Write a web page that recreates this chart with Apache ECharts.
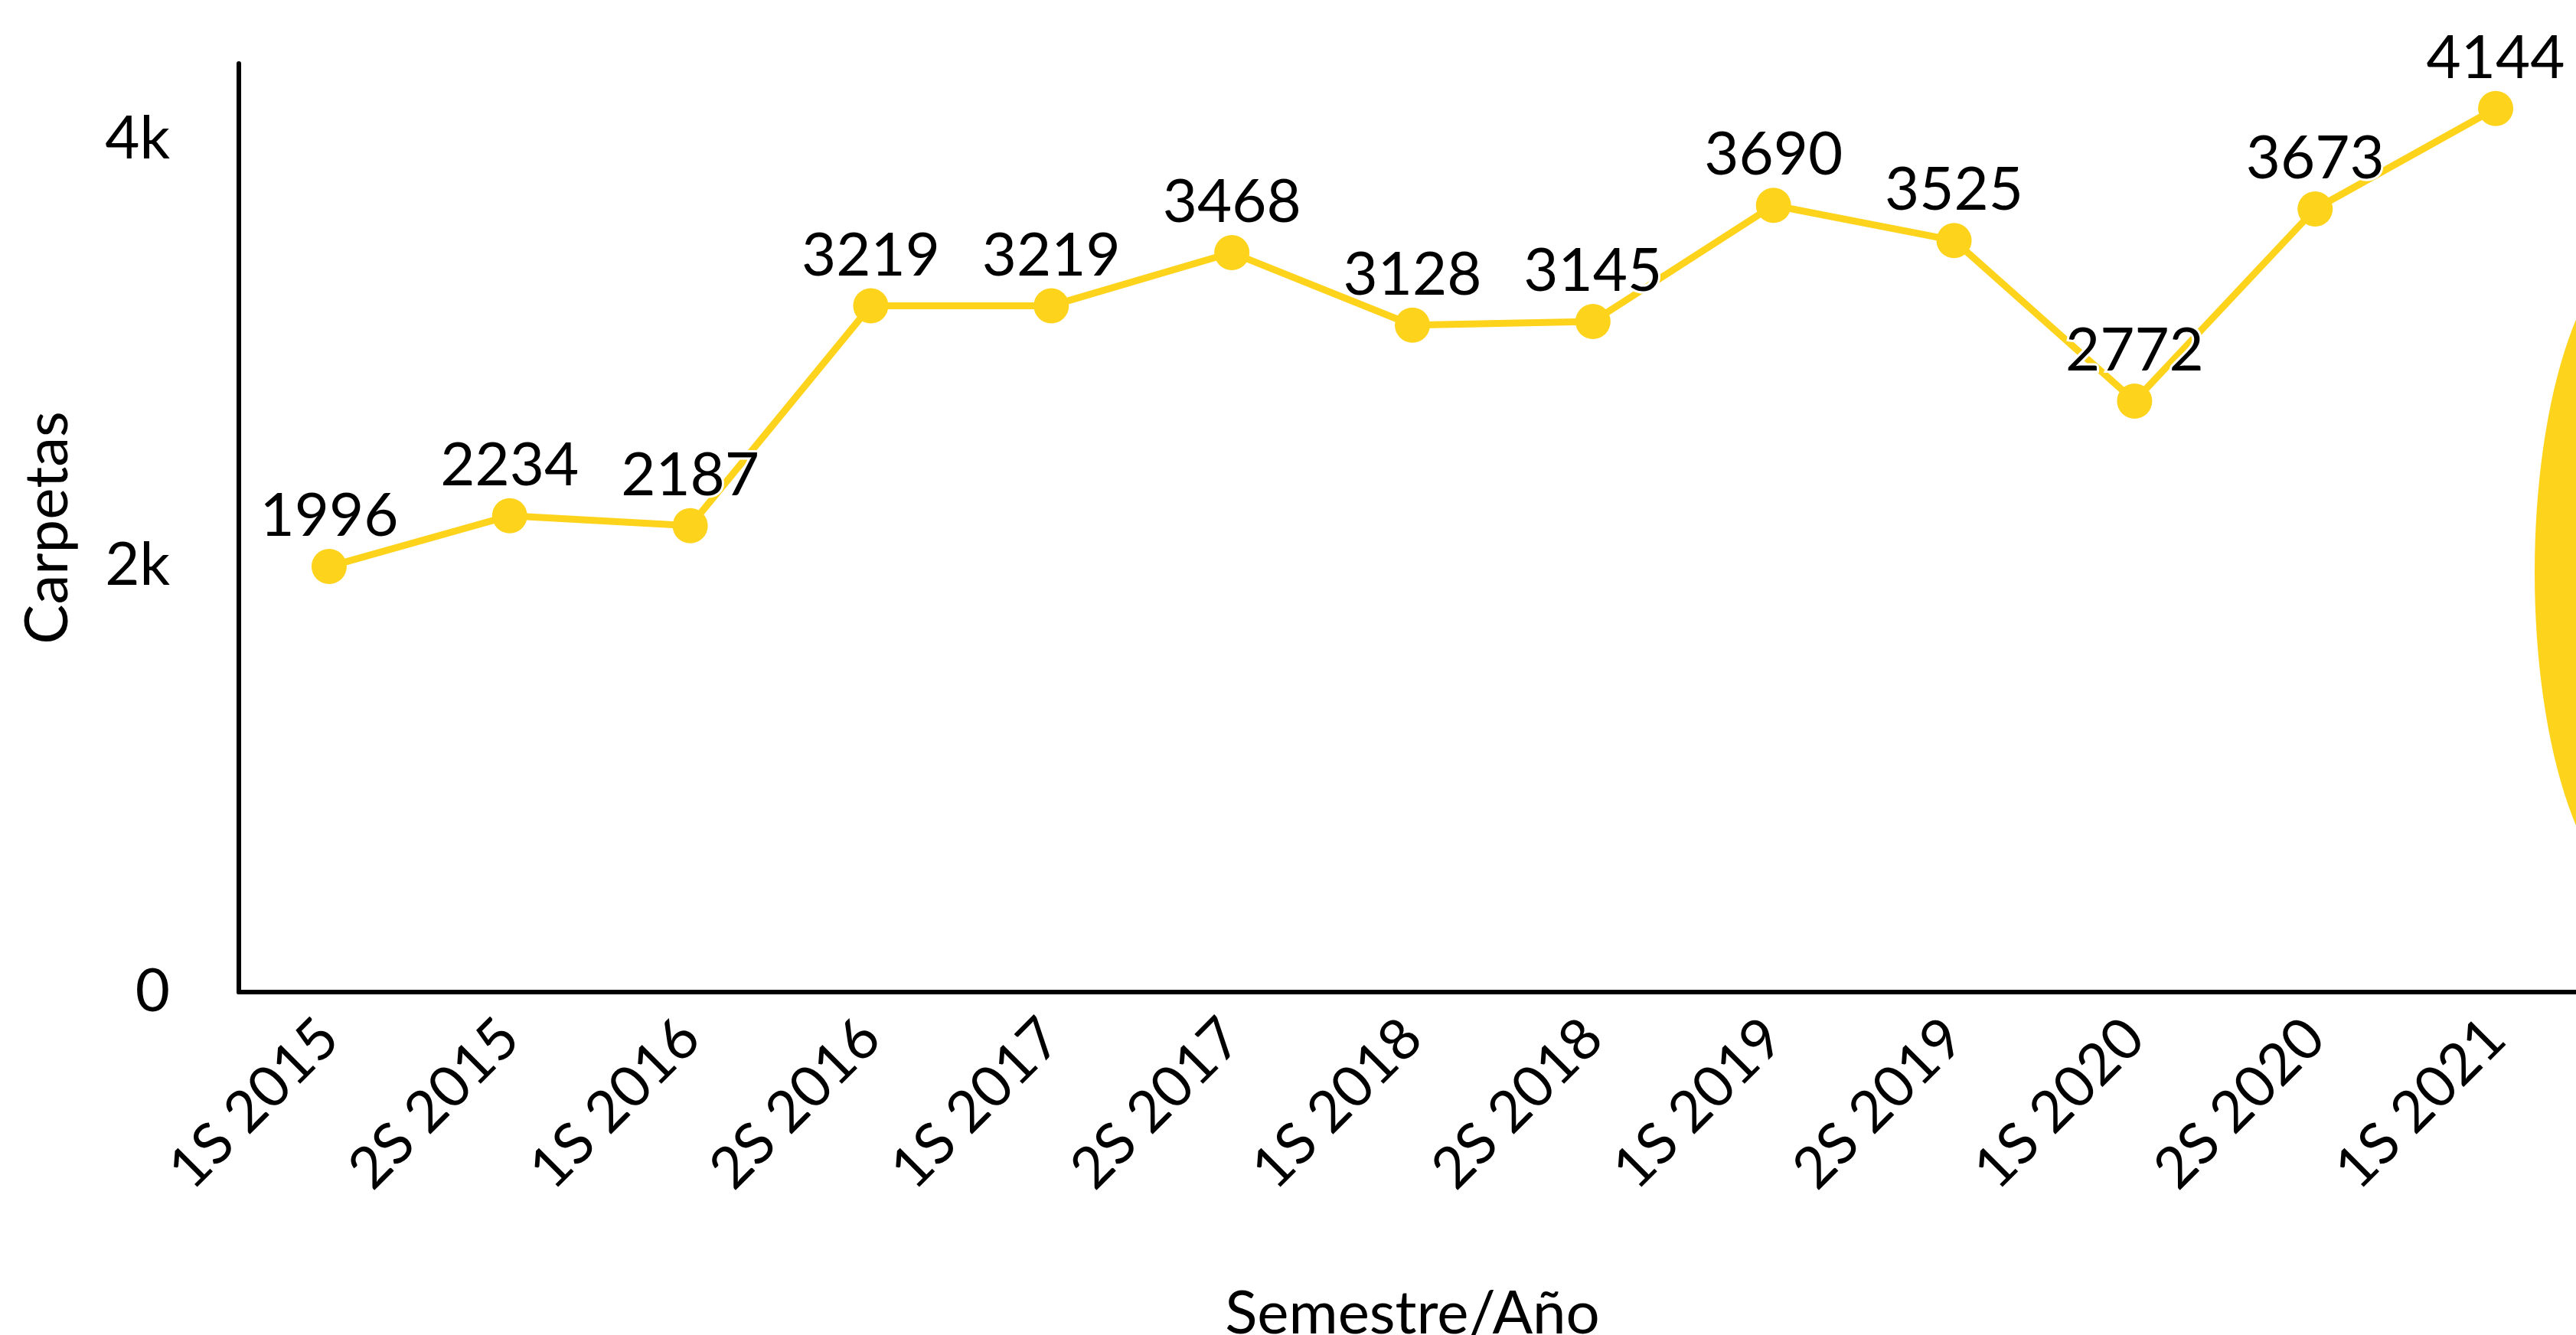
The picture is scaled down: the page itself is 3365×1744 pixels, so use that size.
<!DOCTYPE html>
<html>
<head>
  <meta charset="utf-8">
  <title>Carpetas por semestre</title>
  <script src="https://cdn.jsdelivr.net/npm/echarts@6/dist/echarts.min.js"></script>
  <style>
    html, body { margin: 0; padding: 0; background: #fff; overflow: hidden; }
    #lineChart { width: 3365px; height: 1744px; }
  </style>
</head>
<body>
<div id="lineChart"></div>
<script>
  // datos
  const semestres = ['1S 2015', '2S 2015', '1S 2016', '2S 2016', '1S 2017', '2S 2017', '1S 2018',
    '2S 2018', '1S 2019', '2S 2019', '1S 2020', '2S 2020', '1S 2021']
  const carpetas = [1996, 2234, 2187, 3219, 3219, 3468, 3128, 3145, 3690, 3525, 2772, 3673, 4144]
  const yTickLabels = { 0: '0', 2000: '2k', 4000: '4k' }

  const amarillo = '#fed31b'
  const fuente = 'Lato'

  const chart = echarts.init(document.getElementById('lineChart'))

  chart.setOption({
    animation: false,
    backgroundColor: '#fff',
    textStyle: { fontFamily: fuente },
    grid: {
      left: 312,
      right: -13,
      top: 83,
      bottom: 448,
      outerBoundsMode: 'none' // el area de trazado se sale un poco por la derecha
    },
    // la leyenda queda casi fuera del lienzo, solo se ve su icono
    legend: {
      left: 3311,
      top: 318,
      padding: 0,
      icon: 'path://M0,430 A150,430 0 1,1 300,430 A150,430 0 1,1 0,430 Z',
      itemWidth: 300,
      itemHeight: 860,
      symbolKeepAspect: false,
      textStyle: { fontSize: 78, color: '#000' },
      data: ['Carpetas']
    },
    xAxis: {
      type: 'category',
      data: semestres,
      boundaryGap: true,
      name: 'Semestre/Año',
      nameLocation: 'middle',
      nameGap: 382,
      nameTextStyle: { fontSize: 78, color: '#000', fontFamily: fuente },
      axisLine: { lineStyle: { color: '#000', width: 6 } },
      axisTick: { show: false },
      axisLabel: {
        interval: 0,
        rotate: 45,
        margin: 48,
        fontSize: 75,
        color: '#000',
        fontFamily: fuente
      },
      splitLine: { show: false }
    },
    yAxis: {
      type: 'value',
      min: 0,
      max: 4355,
      interval: 2000,
      name: 'Carpetas',
      nameLocation: 'middle',
      nameGap: 210,
      nameTextStyle: { fontSize: 78, color: '#000', fontFamily: fuente },
      axisLine: { show: true, lineStyle: { color: '#000', width: 6 } },
      axisTick: { show: false },
      axisLabel: {
        margin: 90,
        padding: [28, 0, 0, 0],
        fontSize: 78,
        color: '#000',
        fontFamily: fuente,
        showMaxLabel: false,
        formatter: function (v) {
          return yTickLabels[v] !== undefined ? yTickLabels[v] : ''
        }
      },
      splitLine: { show: false }
    },
    series: [
      {
        name: 'Carpetas',
        type: 'line',
        data: carpetas,
        symbol: 'circle',
        symbolSize: 46,
        itemStyle: { color: amarillo, borderWidth: 0 },
        lineStyle: { color: amarillo, width: 9 },
        label: {
          show: true,
          position: 'top',
          distance: 3,
          fontSize: 78,
          color: '#000',
          fontFamily: fuente,
          textBorderColor: '#fff',
          textBorderWidth: 6
        },
        z: 3
      }
    ]
  })
</script>
</body>
</html>
